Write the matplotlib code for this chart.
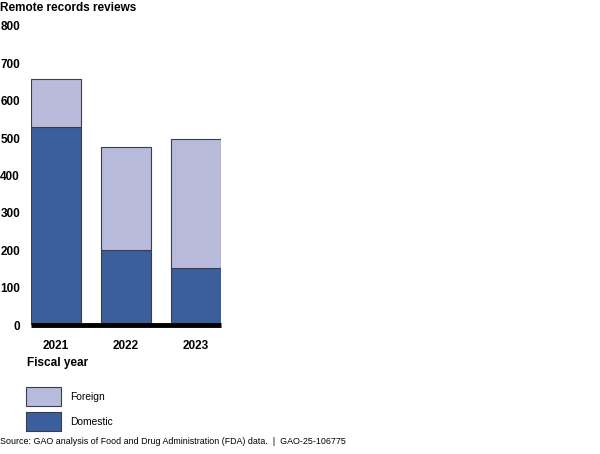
import matplotlib
matplotlib.use('Agg')
import matplotlib.pyplot as plt
from matplotlib.patches import Rectangle

plt.rcParams['font.family'] = ['Liberation Sans', 'DejaVu Sans']

years = ['2021', '2022', '2023']
domestic = [530, 200, 152]
foreign = [127, 276, 346]
yticks = [0, 100, 200, 300, 400, 500, 600, 700, 800]

dark_blue = '#3a5f9c'
light_blue = '#b8bbdb'
edge = '#3c3c4a'

fig = plt.figure(figsize=(6, 4.54), dpi=100)
ax = fig.add_axes([31 / 600, 1 - 325 / 454, 190 / 600, 299 / 454])

x = list(range(len(years)))
w = 50 / 70
ax.bar(x, domestic, width=w, color=dark_blue, edgecolor=edge, linewidth=0.8, zorder=2)
ax.bar(x, foreign, bottom=domestic, width=w, color=light_blue, edgecolor=edge, linewidth=0.8, zorder=2)

ax.set_xlim(-w / 2, len(years) - 1 + w / 2)
ax.set_ylim(0, 800)
ax.set_yticks(yticks)
ax.set_yticklabels([str(v) for v in yticks], fontsize=8.5, fontweight='bold')
ax.set_xticks(x)
ax.set_xticklabels(years, fontsize=8.5, fontweight='bold')
ax.tick_params(length=0, pad=7.9, axis='y')
ax.tick_params(length=0, pad=10.5, axis='x')
for s in ['top', 'right', 'left']:
    ax.spines[s].set_visible(False)
ax.spines['bottom'].set_linewidth(3.5)
ax.spines['bottom'].set_color('black')
ax.spines['bottom'].set_capstyle('butt')
ax.spines['bottom'].set_zorder(3)

fig.text(0.0, 1 - 8 / 454, 'Remote records reviews', fontsize=8.5, fontweight='bold', va='center', ha='left')
fig.text(27 / 600, 1 - 363 / 454, 'Fiscal year', fontsize=8.5, fontweight='bold', va='center', ha='left')

# legend
for i, (lab, col) in enumerate([('Foreign', light_blue), ('Domestic', dark_blue)]):
    y0 = 387 + i * 25
    fig.patches.append(Rectangle((26 / 600, 1 - (y0 + 19) / 454), 35 / 600, 19 / 454,
                                 transform=fig.transFigure, facecolor=col, edgecolor=edge, linewidth=0.8))
    fig.text(70 / 600, 1 - (y0 + 10) / 454, lab, fontsize=7.4, va='center', ha='left')

fig.text(0.0, 1 - 441 / 454, 'Source: GAO analysis of Food and Drug Administration (FDA) data.  |  GAO-25-106775',
         fontsize=6.4, va='center', ha='left')

fig.savefig('out.png', dpi=100)
